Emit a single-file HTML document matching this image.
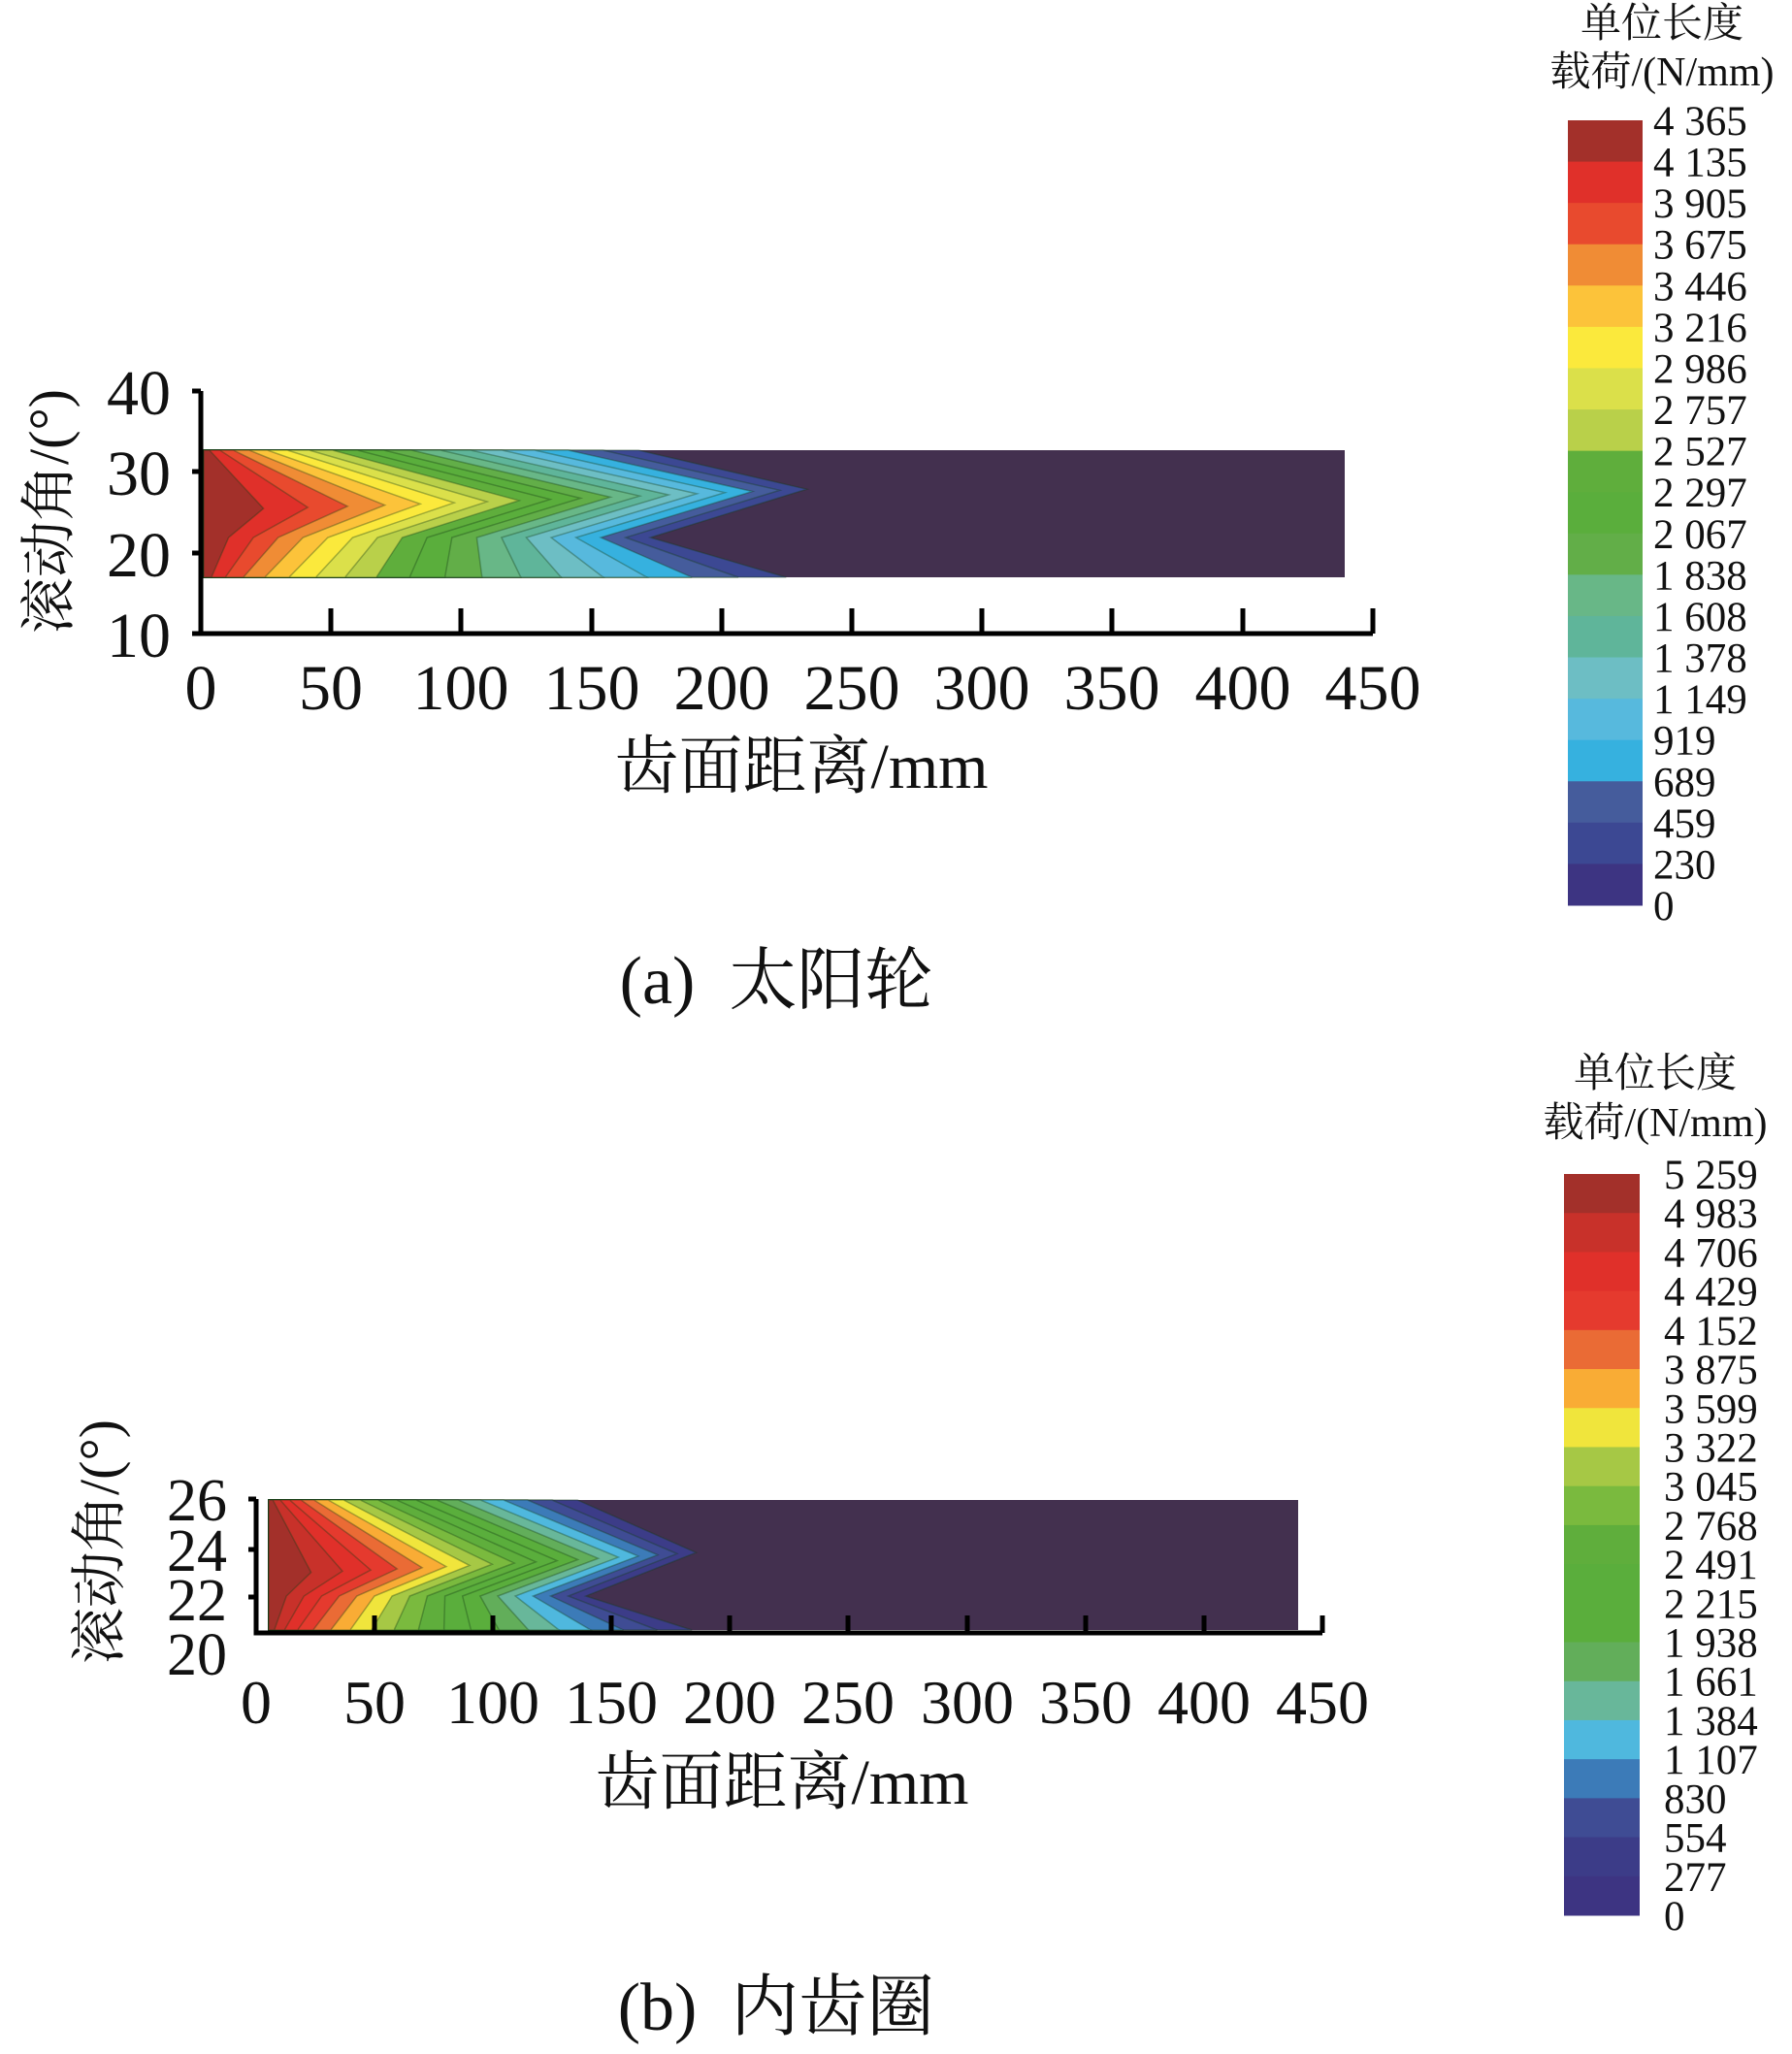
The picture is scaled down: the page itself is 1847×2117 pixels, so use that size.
<!DOCTYPE html>
<html><head><meta charset="utf-8"><style>
html,body{margin:0;padding:0;background:#fff;}
svg{display:block;font-family:"Liberation Serif","Noto Serif CJK SC","Noto Sans CJK SC",serif;}
</style></head><body>
<svg width="1847" height="2117" viewBox="0 0 1847 2117" xmlns="http://www.w3.org/2000/svg">
<g id="top">
<rect x="210" y="464" width="1176" height="131" fill="#43304f"/>
</g>
<g id="bot">
<rect x="277" y="1546" width="1061" height="134" fill="#43304f"/>
</g>
<g id="cb1"></g><g id="cb2"></g>
<!-- top axes -->
<g stroke="#000" stroke-width="5" fill="none">
<path d="M207,403 V653 H1415"/>
<path d="M198,403H207 M198,486H207 M198,570H207 M198,653H207"/>
<path d="M341,653V627 M475,653V627 M610,653V627 M744,653V627 M878,653V627 M1012,653V627 M1146,653V627 M1281,653V627 M1415,653V627"/>
</g>
<g font-size="66" text-anchor="end" fill="#111">
<text x="176" y="427">40</text><text x="176" y="510">30</text><text x="176" y="594">20</text><text x="176" y="677">10</text>
</g>
<g font-size="66" text-anchor="middle" fill="#111">
<text x="207" y="731">0</text><text x="341" y="731">50</text><text x="475" y="731">100</text><text x="610" y="731">150</text><text x="744" y="731">200</text><text x="878" y="731">250</text><text x="1012" y="731">300</text><text x="1146" y="731">350</text><text x="1281" y="731">400</text><text x="1415" y="731">450</text>
</g>
<text x="826" y="812" font-size="66" text-anchor="middle" fill="#111">齿面距离/mm</text>
<text transform="translate(70,527) rotate(-90)" font-size="58" text-anchor="middle" fill="#111">滚动角/(°)</text>
<text x="800" y="1034" font-size="70" text-anchor="middle" fill="#111" xml:space="preserve">(a)  太阳轮</text>
<!-- bottom axes -->
<g stroke="#000" stroke-width="5" fill="none">
<path d="M264,1545 V1683 H1363"/>
<path d="M256,1545H264 M256,1597H264 M256,1646H264"/>
<path d="M386,1683V1665 M508,1683V1665 M630,1683V1665 M752,1683V1665 M874,1683V1665 M997,1683V1665 M1119,1683V1665 M1241,1683V1665 M1363,1683V1665"/>
</g>
<g font-size="62" text-anchor="end" fill="#111">
<text x="234" y="1567">26</text><text x="234" y="1619">24</text><text x="234" y="1670">22</text><text x="234" y="1726">20</text>
</g>
<g font-size="64" text-anchor="middle" fill="#111">
<text x="264" y="1776">0</text><text x="386" y="1776">50</text><text x="508" y="1776">100</text><text x="630" y="1776">150</text><text x="752" y="1776">200</text><text x="874" y="1776">250</text><text x="997" y="1776">300</text><text x="1119" y="1776">350</text><text x="1241" y="1776">400</text><text x="1363" y="1776">450</text>
</g>
<text x="806" y="1859" font-size="66" text-anchor="middle" fill="#111">齿面距离/mm</text>
<text transform="translate(122,1589) rotate(-90)" font-size="58" text-anchor="middle" fill="#111">滚动角/(°)</text>
<text x="800" y="2092" font-size="70" text-anchor="middle" fill="#111" xml:space="preserve">(b)  内齿圈</text>
<g font-size="42" text-anchor="middle" fill="#111">
<text x="1713" y="38">单位长度</text><text x="1713" y="88">载荷/(N/mm)</text>
<text x="1706" y="1120">单位长度</text><text x="1706" y="1171">载荷/(N/mm)</text>
</g>
</svg>
<script>
(function(){
var NS="http://www.w3.org/2000/svg";
var c1=["#a3302a","#e0302a","#e84a2e","#f08c35","#fcc33a","#fbe93c","#dbe04a","#b9d04a","#5fae3c","#5aae3c","#62ae48","#68b787","#5fb59a","#6dbec4","#57b9dd","#36b1df","#455c9c","#3c4893","#3d3482"];
var c2=["#a3302a","#c8312a","#e0302a","#e53a2e","#ea6b35","#f9ac35","#f0e53c","#a6c845","#7aba3e","#5fae3c","#5aae3c","#5aae3c","#62ae5a","#68b79a","#4fb8de","#3c7bb8","#3f4c94","#3c3c88","#3d3482"];
function draw(gid,x0,y0,h,cols,wt,wtip,ytip,wn,yn,wb){
 var g=document.getElementById(gid);
 for(var i=cols.length-2;i>=0;i--){
  var f=(i+1)/cols.length;
  var fe=Math.pow(f,1.5), ft=Math.pow(f,0.8), fn=Math.pow(f,1.0);
  var ty=ytip+(1-f)*h*0.17;
  var pts=[[x0,y0],[x0+wt*fe,y0],[x0+wtip*ft,ty],[x0+wn*fn,yn],[x0+wb*fe,y0+h],[x0,y0+h]];
  var p=document.createElementNS(NS,"polygon");
  p.setAttribute("points",pts.map(function(q){return q[0].toFixed(1)+","+q[1].toFixed(1)}).join(" "));
  p.setAttribute("fill",cols[i]);
  p.setAttribute("stroke","rgba(20,60,20,0.35)");
  p.setAttribute("stroke-width","1.5");
  g.appendChild(p);
 }
}
draw("top",210,464,131,c1,486,649,503,486,554,651);
draw("bot",277,1546,134,c2,345,460,1599,345,1645,473);
var l1=["4 365","4 135","3 905","3 675","3 446","3 216","2 986","2 757","2 527","2 297","2 067","1 838","1 608","1 378","1 149","919","689","459","230","0"];
var l2=["5 259","4 983","4 706","4 429","4 152","3 875","3 599","3 322","3 045","2 768","2 491","2 215","1 938","1 661","1 384","1 107","830","554","277","0"];
function cb(id,x,y0,y1,w,cols,labs,lx){
 var g=document.getElementById(id),n=cols.length,h=(y1-y0)/n;
 for(var i=0;i<n;i++){var r=document.createElementNS(NS,"rect");r.setAttribute("x",String(x));r.setAttribute("y",String(y0+i*h));r.setAttribute("width",String(w));r.setAttribute("height",String(h+0.5));r.setAttribute("fill",cols[i]);g.appendChild(r);}
 for(var j=0;j<labs.length;j++){var t=document.createElementNS(NS,"text");t.setAttribute("x",String(lx));t.setAttribute("y",String(y0+j*h+15));t.setAttribute("font-size","43");t.setAttribute("fill","#111");t.textContent=labs[j];g.appendChild(t);}
}
cb("cb1",1616,124,933,77,c1,l1,1704);
cb("cb2",1612,1210,1974,78,c2,l2,1715);
})();
</script>
</body></html>
